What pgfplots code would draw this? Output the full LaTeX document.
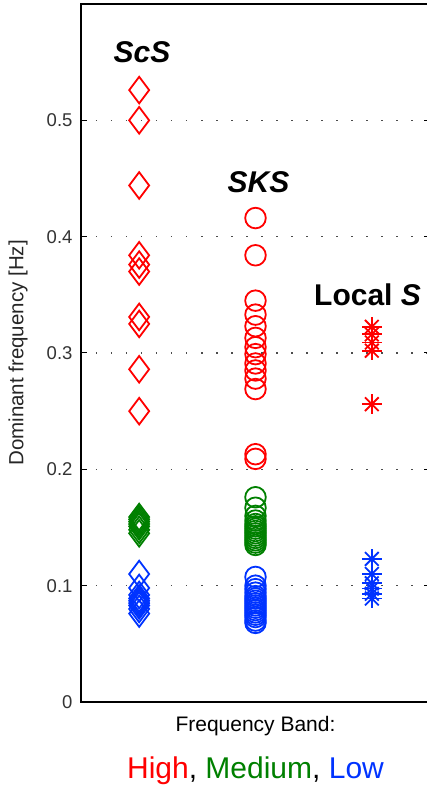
\documentclass[border=0pt]{standalone}
\usepackage{fontspec}
\setmainfont{Liberation Sans}
\usepackage{pgfplots}
\pgfplotsset{compat=1.18}
\definecolor{mred}{rgb}{1,0,0}
\definecolor{mgreen}{rgb}{0,0.5,0}
\definecolor{mblue}{rgb}{0,0.2,1}
\pgfplotsset{mk/.style={only marks, line width=1.8pt, mark options={line width=1.8pt, solid}}}
\begin{document}
\begin{tikzpicture}
\begin{axis}[name=ax, scale only axis, width=349pt, height=698pt,
  xmin=0.5, xmax=3.5, ymin=0, ymax=0.6,
  xtick=\empty, ytick={0,0.1,0.2,0.3,0.4,0.5},
  ymajorgrids,
  grid style={black!70, line width=1.5pt, dash pattern=on 1.5pt off 13.5pt},
  axis line style={line width=2pt},
  major tick length=6pt, tick style={line width=1pt, black},
  tick align=inside,
  /pgf/number format/assume math mode=true,
  /pgf/number format/fixed, /pgf/number format/precision=1,
  yticklabel style={font=\fontsize{18.5}{20}\selectfont, text=black!80, xshift=-5pt},
  clip=false,
]
% ScS
\addplot[mk, mark=diamond, mark size=13.3pt, color=mred] coordinates {
(1,0.526) (1,0.500) (1,0.444) (1,0.384) (1,0.376) (1,0.370) (1,0.331) (1,0.325) (1,0.286) (1,0.250)};
\addplot[mk, mark=diamond, mark size=13.3pt, color=mgreen] coordinates {
(1,0.159) (1,0.157) (1,0.155) (1,0.153) (1,0.151) (1,0.148) (1,0.145)};
\addplot[mk, mark=diamond, mark size=13.3pt, color=mblue] coordinates {
(1,0.110) (1,0.098) (1,0.092) (1,0.089) (1,0.087) (1,0.085) (1,0.083) (1,0.080) (1,0.076)};
% SKS
\addplot[mk, mark=o, mark size=10.3pt, color=mred] coordinates {
(2,0.416) (2,0.384) (2,0.345) (2,0.333) (2,0.323) (2,0.313) (2,0.305) (2,0.299) (2,0.291) (2,0.285) (2,0.278) (2,0.269) (2,0.213) (2,0.209)};
\addplot[mk, mark=o, mark size=10.3pt, color=mgreen] coordinates {
(2,0.176) (2,0.167) (2,0.160) (2,0.156) (2,0.153) (2,0.151) (2,0.149) (2,0.147) (2,0.145) (2,0.143) (2,0.141) (2,0.139) (2,0.137) (2,0.135)};
\addplot[mk, mark=o, mark size=10.3pt, color=mblue] coordinates {
(2,0.1075) (2,0.100) (2,0.097) (2,0.094) (2,0.091) (2,0.089) (2,0.087) (2,0.085) (2,0.083) (2,0.081) (2,0.079) (2,0.077) (2,0.075) (2,0.073) (2,0.070) (2,0.068)};
% Local S
\addplot[mk, mark=+, mark size=9.7pt, color=mred] coordinates {
(3,0.3225) (3,0.316) (3,0.309) (3,0.302) (3,0.256)};
\addplot[mk, mark=x, mark size=9.7pt, color=mred] coordinates {
(3,0.3225) (3,0.316) (3,0.309) (3,0.302) (3,0.256)};
\addplot[mk, mark=+, mark size=9.7pt, color=mblue] coordinates {
(3,0.123) (3,0.110) (3,0.102) (3,0.0975) (3,0.093) (3,0.089)};
\addplot[mk, mark=x, mark size=9.7pt, color=mblue] coordinates {
(3,0.123) (3,0.110) (3,0.102) (3,0.0975) (3,0.093) (3,0.089)};
% annotations
\node[font=\fontsize{30}{32}\selectfont\bfseries\itshape] at (axis cs:1.024,0.559) {ScS};
\node[font=\fontsize{30}{32}\selectfont\bfseries\itshape] at (axis cs:2.026,0.447) {SKS};
\node[font=\fontsize{30}{32}\selectfont\bfseries] at (axis cs:2.963,0.350) {Local \textit{S}};
\end{axis}
\node[rotate=90, font=\fontsize{20.5}{22}\selectfont, text=black!85] at ([xshift=-63pt]ax.west) {Dominant frequency [Hz]};
\node[anchor=base, font=\fontsize{21}{23}\selectfont] at ([yshift=-30pt]ax.south) {Frequency Band:};
\node[anchor=base, font=\fontsize{30}{32}\selectfont] at ([yshift=-76pt]ax.south) {\textcolor{mred}{High}, \textcolor{mgreen}{Medium}, \textcolor{mblue}{Low}};
\pgfresetboundingbox
\useasboundingbox ([xshift=-81pt,yshift=-85pt]ax.south west) rectangle ([xshift=-3pt,yshift=4pt]ax.north east);
\end{tikzpicture}
\end{document}
